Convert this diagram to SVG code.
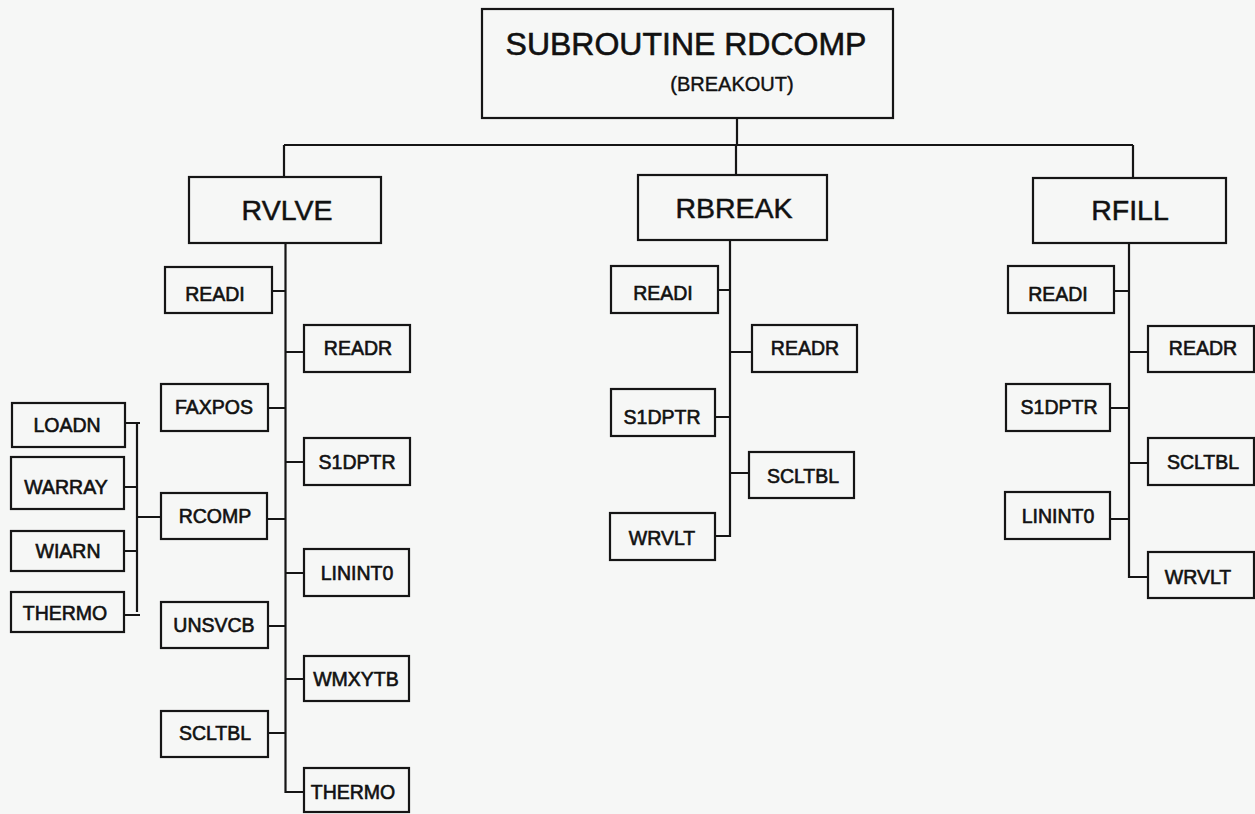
<svg xmlns="http://www.w3.org/2000/svg" width="1255" height="814" viewBox="0 0 1255 814">
<style>
.bg{fill:#f6f7f6}
.box{fill:none;stroke:#151515;stroke-width:2.2}
.ln{fill:none;stroke:#151515;stroke-width:2.2}
text{font-family:"Liberation Sans",Arial,sans-serif;fill:#111;text-anchor:middle}
.t1{font-size:32px;stroke:#111;stroke-width:0.6}
.t2{font-size:20px;stroke:#111;stroke-width:0.4}
.t3{font-size:28.5px;stroke:#111;stroke-width:0.5}
.s{font-size:19.5px;stroke:#111;stroke-width:0.6}
</style>
<rect class="bg" x="0" y="0" width="1255" height="814"/>
<g id="connectors">
<path class="ln" d="M737 118V145M284 145H1133M284 145V177M736 145V175M1133 145V178"/>
<path class="ln" d="M285.5 243V792H304M272 291H285.5M285.5 352H304M268 408H285.5M285.5 462H304M267 519H285.5M285.5 573H304M268 626H285.5M285.5 679H304M268 733H285.5"/>
<path class="ln" d="M125 423H140M137 423V612M124 487H137M137 517H161M124 551H137M124 615H140"/>
<path class="ln" d="M730 240V536H715M718 290H730M730 352H752M715 417H730M730 473H749"/>
<path class="ln" d="M1129 243V577H1148M1114 291H1129M1129 352H1148M1110 408H1129M1129 463H1148M1110 519H1129"/>
</g>
<g id="root"><rect class="box" x="482" y="9" width="411" height="109"/><text class="t1" x="686" y="55">SUBROUTINE RDCOMP</text><text class="t2" x="732" y="91">(BREAKOUT)</text></g>
<g id="rvlve"><rect class="box" x="189" y="177" width="192" height="66"/><text class="t3" x="287" y="220">RVLVE</text></g>
<g id="rbreak"><rect class="box" x="638" y="175" width="189" height="65"/><text class="t3" x="734" y="218">RBREAK</text></g>
<g id="rfill"><rect class="box" x="1033" y="178" width="193" height="65"/><text class="t3" x="1130" y="220">RFILL</text></g>

<g id="rv-readi"><rect class="box" x="165" y="267" width="107" height="46"/><text class="s" x="215" y="301">READI</text></g>
<g id="rv-readr"><rect class="box" x="304" y="325" width="106" height="47"/><text class="s" x="358" y="355">READR</text></g>
<g id="rv-faxpos"><rect class="box" x="161" y="384" width="107" height="47"/><text class="s" x="214" y="414">FAXPOS</text></g>
<g id="rv-s1dptr"><rect class="box" x="304" y="438" width="106" height="47"/><text class="s" x="357" y="469">S1DPTR</text></g>
<g id="rv-rcomp"><rect class="box" x="161" y="493" width="106" height="46"/><text class="s" x="215" y="523">RCOMP</text></g>
<g id="rv-linint0"><rect class="box" x="304" y="549" width="105" height="47"/><text class="s" x="357" y="580">LININT0</text></g>
<g id="rv-unsvcb"><rect class="box" x="161" y="602" width="107" height="46"/><text class="s" x="214" y="632">UNSVCB</text></g>
<g id="rv-wmxytb"><rect class="box" x="304" y="656" width="105" height="45"/><text class="s" x="356" y="686">WMXYTB</text></g>
<g id="rv-scltbl"><rect class="box" x="161" y="711" width="107" height="46"/><text class="s" x="215" y="740">SCLTBL</text></g>
<g id="rv-thermo"><rect class="box" x="304" y="768" width="105" height="44"/><text class="s" x="353" y="799">THERMO</text></g>

<g id="loadn"><rect class="box" x="12" y="403" width="113" height="44"/><text class="s" x="67" y="432">LOADN</text></g>
<g id="warray"><rect class="box" x="11" y="457" width="113" height="52"/><text class="s" x="66" y="494">WARRAY</text></g>
<g id="wiarn"><rect class="box" x="11" y="531" width="113" height="40"/><text class="s" x="68" y="558">WIARN</text></g>
<g id="thermo-l"><rect class="box" x="11" y="592" width="113" height="40"/><text class="s" x="65" y="620">THERMO</text></g>

<g id="rb-readi"><rect class="box" x="611" y="266" width="107" height="47"/><text class="s" x="663" y="300">READI</text></g>
<g id="rb-readr"><rect class="box" x="752" y="325" width="105" height="47"/><text class="s" x="805" y="355">READR</text></g>
<g id="rb-s1dptr"><rect class="box" x="611" y="389" width="104" height="47"/><text class="s" x="662" y="424">S1DPTR</text></g>
<g id="rb-scltbl"><rect class="box" x="749" y="452" width="105" height="46"/><text class="s" x="803" y="483">SCLTBL</text></g>
<g id="rb-wrvlt"><rect class="box" x="610" y="513" width="105" height="47"/><text class="s" x="662" y="545">WRVLT</text></g>

<g id="rf-readi"><rect class="box" x="1008" y="266" width="106" height="47"/><text class="s" x="1058" y="301">READI</text></g>
<g id="rf-readr"><rect class="box" x="1148" y="326" width="106" height="46"/><text class="s" x="1203" y="355">READR</text></g>
<g id="rf-s1dptr"><rect class="box" x="1006" y="384" width="104" height="47"/><text class="s" x="1059" y="414">S1DPTR</text></g>
<g id="rf-scltbl"><rect class="box" x="1148" y="438" width="106" height="47"/><text class="s" x="1203" y="469">SCLTBL</text></g>
<g id="rf-linint0"><rect class="box" x="1005" y="492" width="105" height="47"/><text class="s" x="1058" y="523">LININT0</text></g>
<g id="rf-wrvlt"><rect class="box" x="1148" y="552" width="106" height="46"/><text class="s" x="1198" y="584">WRVLT</text></g>
</svg>
